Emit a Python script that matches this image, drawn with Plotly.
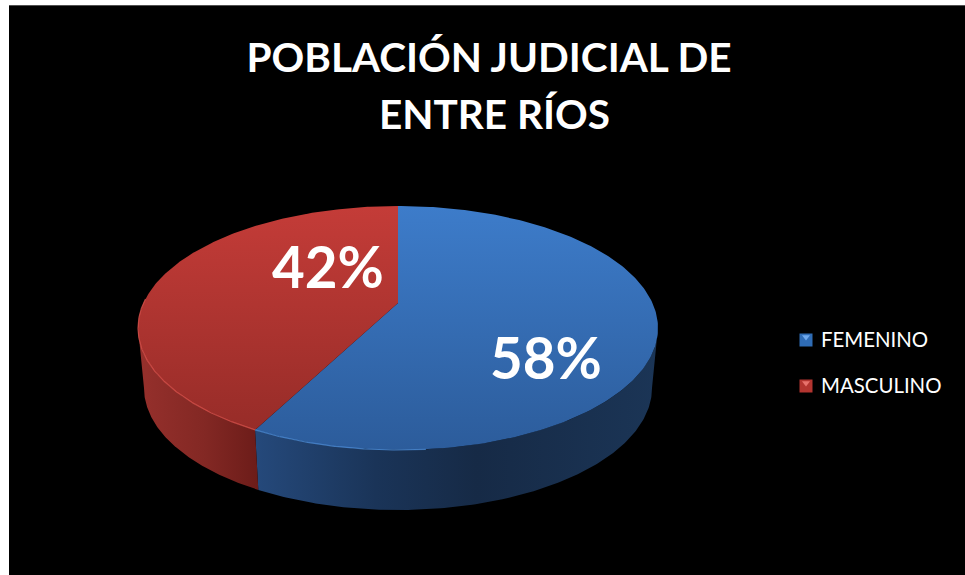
import numpy as np
import plotly.graph_objects as go

# --- data ---
categories = ["FEMENINO", "MASCULINO"]
shares = [57.6, 42.4]
title_lines = ["POBLACIÓN JUDICIAL DE", "ENTRE RÍOS"]

# --- styles / layout ---
top_scales = [
    [[0, "#2c5c9b"], [1, "#3d7cca"]],
    [[0, "#972c28"], [1, "#c43c38"]],
]
side_scales = [
    [[0, "#25497b"], [0.3, "#1a3458"], [0.55, "#162a46"], [1, "#1b3556"]],
    [[0, "#96302c"], [0.55, "#832824"], [1, "#6c1c19"]],
]
rim_colors = ["#4f90dc", "#de544e"]
swatch_colors = ["#2f6cb5", "#b33530"]
swatch_tops = ["#6fa8ec", "#e8726c"]
label_pos = [(546, 365), (328, 274)]
legend_x = 806
legend_text_x = 821
legend_y = [340, 386]
legend_text_y = [342, 388]

CX, APEX, BACK, FRONT, RX, DEPTH, BOTTOM_SCALE = 398, 303, 206, 450, 260, 60, 0.977
near, far = FRONT - APEX, APEX - BACK
b = -(near - far) / (near + far)
a = near * (1 + b)
c = RX * np.sqrt(1 - b * b)


def project(theta):
    """Circle angle (radians, clockwise from the back) to the tilted disc."""
    u, v = np.sin(theta), -np.cos(theta)
    d = 1 + b * v
    return CX + c * u / d, APEX + a * v / d


def lower(x, y):
    return CX + (x - CX) * BOTTOM_SCALE, y + DEPTH


edges = np.cumsum([0] + shares) / sum(shares) * 2 * np.pi
scan = np.linspace(0, 2 * np.pi, 1441)
right_extreme = scan[np.argmax(project(scan)[0])]
left_extreme = scan[np.argmin(project(scan)[0])]
side_ranges = [(right_extreme, edges[1]), (edges[1], left_extreme)]
rim_ranges = [(np.radians(175), edges[1]), (edges[1], np.radians(272))]

fig = go.Figure()

for i in range(2):
    t = np.linspace(*side_ranges[i], 160)
    x, y = project(t)
    lx, ly = lower(x, y)
    fig.add_trace(go.Scatter(
        x=np.r_[x, lx[::-1]], y=np.r_[y, ly[::-1]], mode="lines", fill="toself",
        line=dict(width=0), hoverinfo="skip", showlegend=False,
        fillgradient=dict(type="horizontal", colorscale=side_scales[i]),
    ))

for i in range(2):
    t = np.linspace(edges[i], edges[i + 1], 240)
    x, y = project(t)
    fig.add_trace(go.Scatter(
        x=np.r_[CX, x, CX], y=np.r_[APEX, y, APEX], mode="lines", fill="toself",
        line=dict(width=0), name=categories[i], showlegend=False,
        fillgradient=dict(type="vertical", colorscale=top_scales[i]),
    ))

for i in range(2):
    t = np.linspace(*rim_ranges[i], 160)
    x, y = project(t)
    fig.add_trace(go.Scatter(
        x=x, y=y, mode="lines", line=dict(color=rim_colors[i], width=1.2),
        opacity=0.75, hoverinfo="skip", showlegend=False,
    ))

# percentage labels
fig.add_trace(go.Scatter(
    x=[p[0] for p in label_pos], y=[p[1] for p in label_pos], mode="text",
    text=[f"{round(v)}%" for v in shares],
    textfont=dict(family="Lato", size=56.5, color="white", weight="bold"),
    textposition="middle center", hoverinfo="skip", showlegend=False,
))

# legend
fig.add_trace(go.Scatter(
    x=[legend_x] * 2, y=legend_y, mode="markers",
    marker=dict(symbol="square", size=13, color=swatch_colors, line=dict(width=0)),
    hoverinfo="skip", showlegend=False,
))
fig.add_trace(go.Scatter(
    x=[legend_x] * 2, y=[v - 3 for v in legend_y], mode="markers",
    marker=dict(symbol="triangle-down", size=7, color=swatch_tops, line=dict(width=0)),
    hoverinfo="skip", showlegend=False,
))
fig.add_trace(go.Scatter(
    x=[legend_text_x] * 2, y=legend_text_y, mode="text",
    text=categories, textposition="middle right",
    textfont=dict(family="Lato", size=20.4, color="white"),
    hoverinfo="skip", showlegend=False,
))

title_font = dict(family="Lato", size=40.5, color="white", weight="bold")
fig.update_layout(
    width=965, height=575, margin=dict(l=0, r=0, t=0, b=0),
    paper_bgcolor="white", plot_bgcolor="black",
    title=dict(
        text=title_lines[0], x=489 / 965, xanchor="center",
        y=1 - 58 / 575, yanchor="middle", font=title_font,
    ),
    annotations=[dict(
        text=title_lines[1], xref="x", yref="y", x=494.5, y=114,
        xanchor="center", yanchor="middle", showarrow=False, font=title_font,
    )],
    xaxis=dict(domain=[9 / 965, 1], range=[9, 965], visible=False, fixedrange=True),
    yaxis=dict(domain=[0, 1 - 5 / 575], range=[575, 5], visible=False, fixedrange=True),
    shapes=[dict(type="line", xref="x", yref="y", x0=9, x1=965, y0=5, y1=5,
                 line=dict(color="#a0a0a0", width=1))],
)

fig.write_html("out.html", config={"displayModeBar": False},
               post_script="document.body.style.margin='0';")
